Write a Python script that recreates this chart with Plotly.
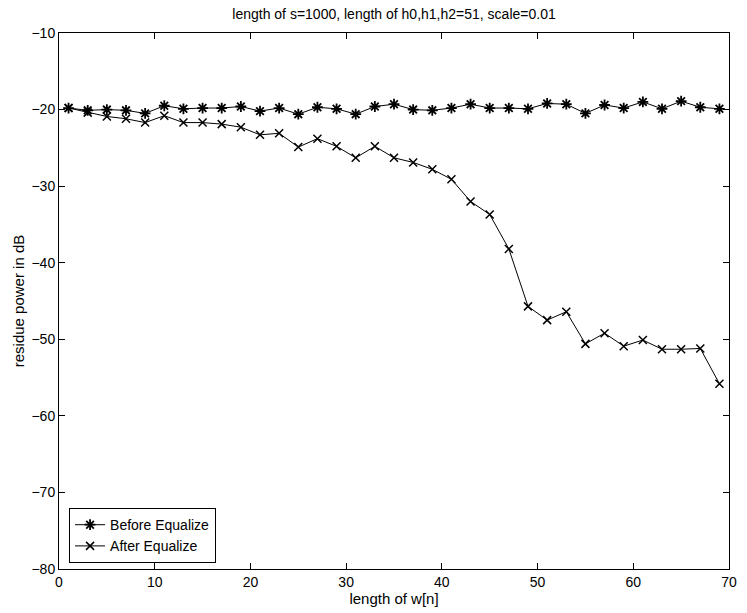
import plotly.graph_objects as go

x_vals = [1, 3, 5, 7, 9, 11, 13, 15, 17, 19, 21, 23, 25, 27, 29, 31, 33, 35,
          37, 39, 41, 43, 45, 47, 49, 51, 53, 55, 57, 59, 61, 63, 65, 67, 69]
before_eq = [-19.8, -20.1, -20.0, -20.1, -20.5, -19.5, -19.9, -19.8, -19.8, -19.6,
             -20.2, -19.8, -20.6, -19.7, -19.9, -20.6, -19.6, -19.3, -20.0, -20.1,
             -19.8, -19.3, -19.8, -19.8, -19.9, -19.2, -19.3, -20.5, -19.4, -19.8,
             -19.0, -19.9, -18.9, -19.7, -19.9]
after_eq = [-19.8, -20.4, -20.9, -21.2, -21.7, -20.8, -21.7, -21.7, -21.9, -22.3,
            -23.3, -23.1, -24.9, -23.8, -24.8, -26.3, -24.8, -26.3, -26.9, -27.8,
            -29.1, -32.0, -33.7, -38.2, -45.7, -47.5, -46.4, -50.6, -49.2, -50.9,
            -50.1, -51.3, -51.3, -51.2, -55.8]
x_ticks = [0, 10, 20, 30, 40, 50, 60, 70]
y_ticks = [-80, -70, -60, -50, -40, -30, -20, -10]

FONT = "Liberation Sans, Arial, Helvetica, sans-serif"

fig = go.Figure()
fig.add_trace(go.Scatter(
    x=x_vals, y=before_eq, mode="lines+markers", name="Before Equalize",
    line=dict(color="black", width=1),
    marker=dict(symbol="asterisk-open", size=9, color="black",
                line=dict(color="black", width=1.8)),
))
fig.add_trace(go.Scatter(
    x=x_vals, y=after_eq, mode="lines+markers", name="After Equalize",
    line=dict(color="black", width=1),
    marker=dict(symbol="x-thin-open", size=8, color="black",
                line=dict(color="black", width=1.5)),
))

axis_common = dict(
    showline=True, linecolor="black", linewidth=1, mirror="ticks",
    ticks="inside", ticklen=6, tickcolor="black", tickwidth=1,
    showgrid=False, zeroline=False,
    tickfont=dict(family=FONT, size=14, color="black"),
)

fig.update_layout(
    width=747, height=613,
    margin=dict(l=59, r=10, t=33, b=42),
    paper_bgcolor="white", plot_bgcolor="white",
    font=dict(family=FONT, size=14, color="black"),
    title=dict(text="length of s=1000, length of h0,h1,h2=51, scale=0.01",
               x=0.5, xref="paper", xanchor="center",
               y=1, yref="container", yanchor="top", pad=dict(t=9),
               font=dict(family=FONT, size=14, color="black")),
    xaxis=dict(range=[0, 70], tickvals=x_ticks,
               title=dict(text="length of w[n]", standoff=3,
                          font=dict(family=FONT, size=15, color="black")),
               **axis_common),
    yaxis=dict(range=[-80, -10], tickvals=y_ticks,
               title=dict(text="residue power in dB", standoff=3,
                          font=dict(family=FONT, size=15, color="black")),
               **axis_common),
    legend=dict(x=0.015, y=0.011, xanchor="left", yanchor="bottom",
                bgcolor="white", bordercolor="black", borderwidth=1,
                font=dict(family=FONT, size=14, color="black"),
                tracegroupgap=0, itemwidth=30),
    showlegend=True,
)

fig.write_html(
    "out.html",
    config={"displayModeBar": False},
    post_script="document.body.style.margin='0';document.body.style.overflow='hidden';",
)
